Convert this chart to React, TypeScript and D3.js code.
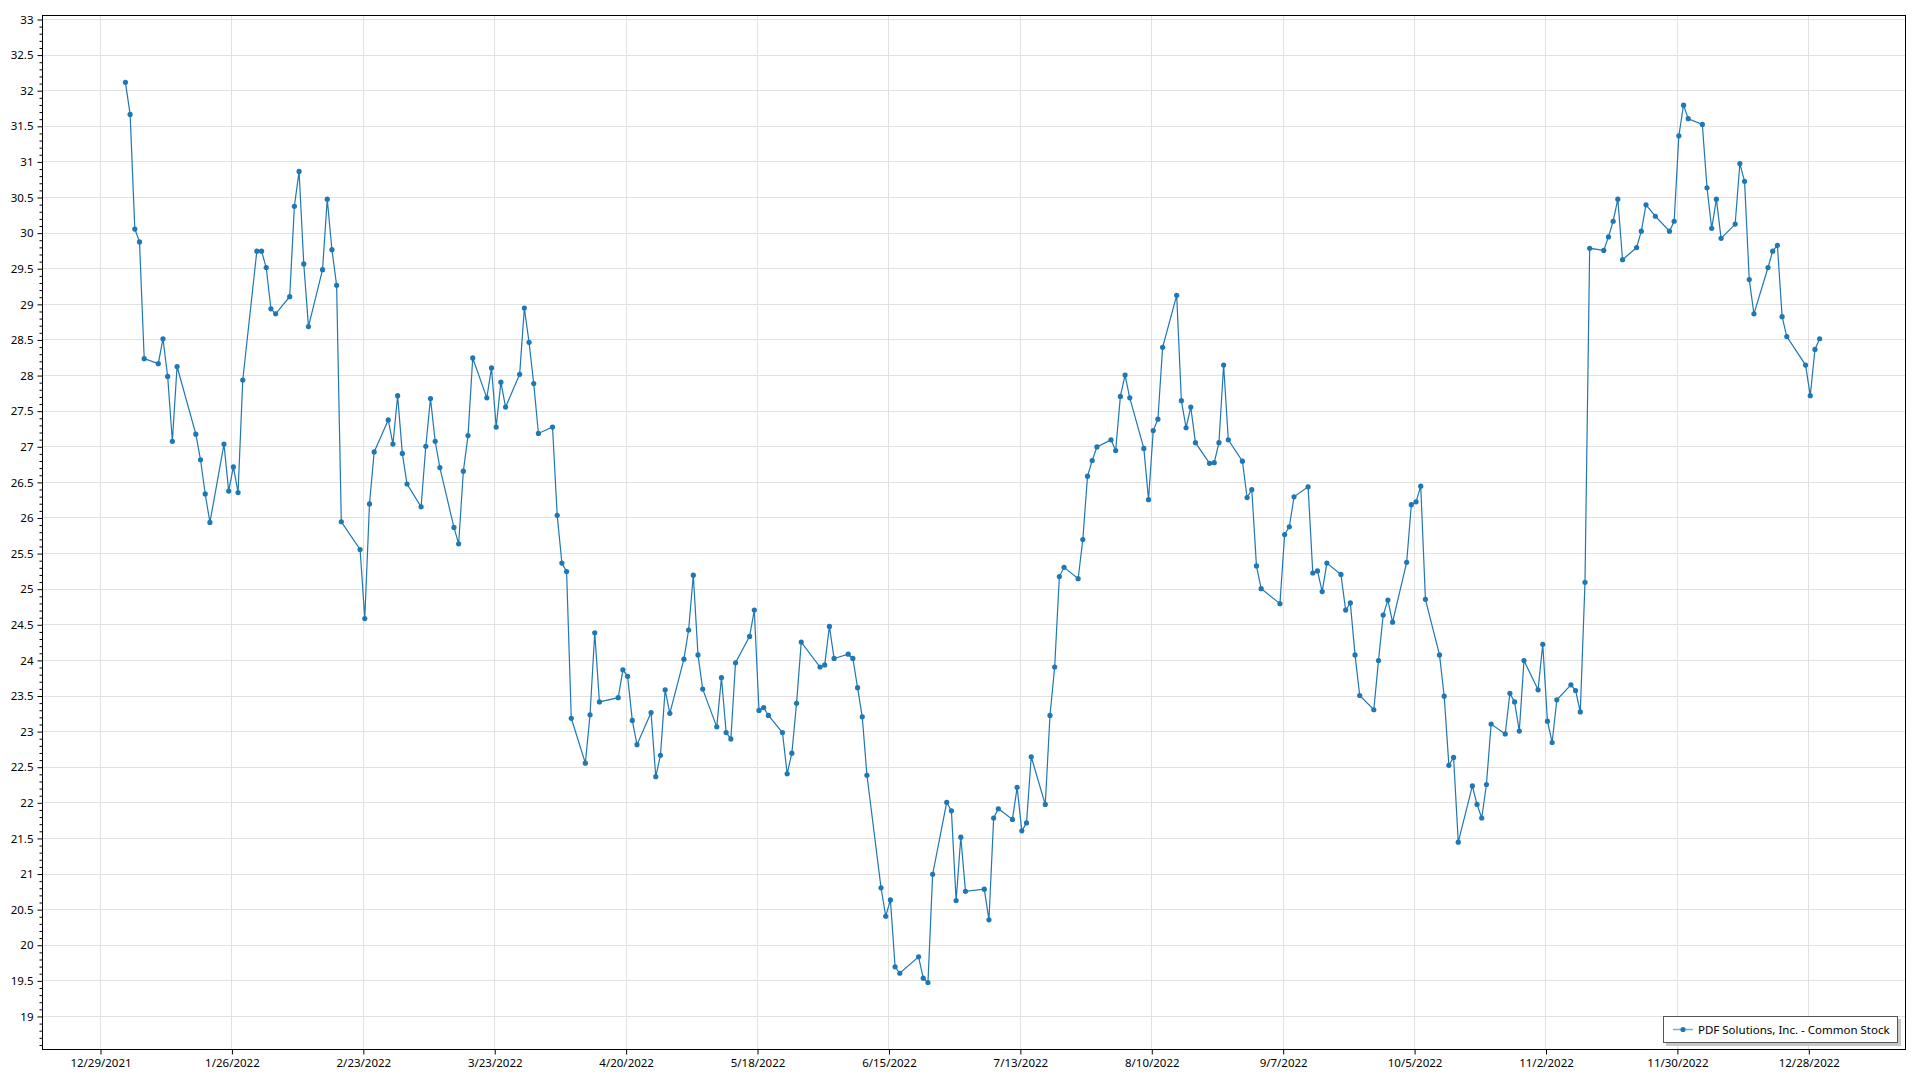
import React, { useRef, useEffect } from "react";
import * as d3 from "d3";

const seriesName = "PDF Solutions, Inc. - Common Stock";

// closing prices for 2022, [day of month, close]
const jan = [[3, 32.11], [4, 31.66], [5, 30.05], [6, 29.87], [7, 28.23], [10, 28.16], [11, 28.51], [12, 27.98], [13, 27.07], [14, 28.12], [18, 27.17], [19, 26.81], [20, 26.33], [21, 25.93], [24, 27.03], [25, 26.37], [26, 26.71], [27, 26.35], [28, 27.93], [31, 29.74]];
const feb = [[1, 29.74], [2, 29.51], [3, 28.93], [4, 28.86], [7, 29.1], [8, 30.37], [9, 30.86], [10, 29.56], [11, 28.68], [14, 29.48], [15, 30.47], [16, 29.76], [17, 29.26], [18, 25.94], [22, 25.55], [23, 24.58], [24, 26.19], [25, 26.92], [28, 27.37]];
const mar = [[1, 27.03], [2, 27.71], [3, 26.9], [4, 26.47], [7, 26.15], [8, 27.0], [9, 27.67], [10, 27.07], [11, 26.7], [14, 25.86], [15, 25.63], [16, 26.65], [17, 27.15], [18, 28.24], [21, 27.68], [22, 28.1], [23, 27.27], [24, 27.9], [25, 27.55], [28, 28.01], [29, 28.94], [30, 28.46], [31, 27.88]];
const apr = [[1, 27.18], [4, 27.27], [5, 26.03], [6, 25.36], [7, 25.24], [8, 23.18], [11, 22.55], [12, 23.23], [13, 24.38], [14, 23.41], [18, 23.47], [19, 23.86], [20, 23.77], [21, 23.15], [22, 22.81], [25, 23.26], [26, 22.36], [27, 22.66], [28, 23.58], [29, 23.25]];
const may = [[2, 24.01], [3, 24.42], [4, 25.19], [5, 24.07], [6, 23.59], [9, 23.06], [10, 23.75], [11, 22.98], [12, 22.89], [13, 23.96], [16, 24.33], [17, 24.7], [18, 23.29], [19, 23.33], [20, 23.22], [23, 22.98], [24, 22.4], [25, 22.69], [26, 23.39], [27, 24.25], [31, 23.9]];
const jun = [[1, 23.93], [2, 24.47], [3, 24.02], [6, 24.08], [7, 24.02], [8, 23.61], [9, 23.2], [10, 22.38], [13, 20.8], [14, 20.4], [15, 20.63], [16, 19.69], [17, 19.6], [21, 19.83], [22, 19.53], [23, 19.47], [24, 20.99], [27, 22.0], [28, 21.88], [29, 20.62], [30, 21.51]];
const jul = [[1, 20.75], [5, 20.78], [6, 20.35], [7, 21.78], [8, 21.91], [11, 21.76], [12, 22.21], [13, 21.6], [14, 21.71], [15, 22.64], [18, 21.97], [19, 23.22], [20, 23.9], [21, 25.17], [22, 25.3], [25, 25.14], [26, 25.69], [27, 26.58], [28, 26.8], [29, 26.99]];
const aug = [[1, 27.09], [2, 26.94], [3, 27.7], [4, 28.0], [5, 27.68], [8, 26.97], [9, 26.25], [10, 27.22], [11, 27.38], [12, 28.39], [15, 29.12], [16, 27.64], [17, 27.26], [18, 27.55], [19, 27.05], [22, 26.76], [23, 26.77], [24, 27.05], [25, 28.14], [26, 27.09], [29, 26.79], [30, 26.28], [31, 26.39]];
const sep = [[1, 25.32], [2, 25.0], [6, 24.79], [7, 25.76], [8, 25.87], [9, 26.29], [12, 26.43], [13, 25.22], [14, 25.25], [15, 24.96], [16, 25.36], [19, 25.2], [20, 24.7], [21, 24.8], [22, 24.07], [23, 23.5], [26, 23.3], [27, 23.99], [28, 24.63], [29, 24.84], [30, 24.53]];
const oct = [[3, 25.37], [4, 26.18], [5, 26.22], [6, 26.44], [7, 24.85], [10, 24.07], [11, 23.49], [12, 22.52], [13, 22.63], [14, 21.44], [17, 22.23], [18, 21.97], [19, 21.78], [20, 22.25], [21, 23.1], [24, 22.96], [25, 23.53], [26, 23.41], [27, 23.0], [28, 23.99], [31, 23.58]];
const nov = [[1, 24.22], [2, 23.14], [3, 22.84], [4, 23.44], [7, 23.65], [8, 23.57], [9, 23.27], [10, 25.09], [11, 29.78], [14, 29.75], [15, 29.94], [16, 30.16], [17, 30.47], [18, 29.62], [21, 29.79], [22, 30.02], [23, 30.39], [25, 30.23], [28, 30.02], [29, 30.16], [30, 31.36]];
const dec = [[1, 31.79], [2, 31.6], [5, 31.52], [6, 30.63], [7, 30.06], [8, 30.47], [9, 29.92], [12, 30.12], [13, 30.97], [14, 30.72], [15, 29.34], [16, 28.86], [19, 29.51], [20, 29.74], [21, 29.82], [22, 28.82], [23, 28.54], [27, 28.14], [28, 27.71], [29, 28.36], [30, 28.51]];
const months = [jan, feb, mar, apr, may, jun, jul, aug, sep, oct, nov, dec];

const xTickLabels = ["12/29/2021", "1/26/2022", "2/23/2022", "3/23/2022", "4/20/2022", "5/18/2022", "6/15/2022", "7/13/2022", "8/10/2022", "9/7/2022", "10/5/2022", "11/2/2022", "11/30/2022", "12/28/2022"];
const yTicks = d3.range(19, 33.01, 0.5);

const font = "'Noto Sans', 'Open Sans', sans-serif";
const blue = "#1f77b4";

const StockChart: React.FC = () => {
  const ref = useRef<SVGSVGElement | null>(null);

  useEffect(() => {
    const svg = d3.select(ref.current);
    svg.selectAll("*").remove();

    const width = 1920;
    const height = 1080;
    const left = 42, right = 1905, top = 15, bottom = 1049;

    const data = months.flatMap((m, i) =>
      m.map(([d, v]) => ({ date: new Date(2022, i, d, 10), value: v }))
    );
    const parse = d3.timeParse("%m/%d/%Y");
    const tickDates = xTickLabels.map((s) => parse(s) as Date);

    const x = d3
      .scaleTime()
      .domain([new Date(2021, 11, 16, 15, 20), new Date(2023, 0, 17, 14, 30)])
      .range([left, right]);
    const y = d3.scaleLinear().domain([18.536, 33.056]).range([bottom, top]);

    svg.attr("width", width).attr("height", height);
    svg.append("rect").attr("width", width).attr("height", height).attr("fill", "#fff");

    // grid
    const grid = svg.append("g").attr("stroke", "#e2e2e2").attr("stroke-width", 1);
    grid
      .selectAll("line.h")
      .data(yTicks)
      .enter()
      .append("line")
      .attr("x1", left)
      .attr("x2", right)
      .attr("y1", (d) => Math.round(y(d)) + 0.5)
      .attr("y2", (d) => Math.round(y(d)) + 0.5);
    grid
      .selectAll("line.v")
      .data(tickDates)
      .enter()
      .append("line")
      .attr("y1", top)
      .attr("y2", bottom)
      .attr("x1", (d) => Math.round(x(d)) + 0.5)
      .attr("x2", (d) => Math.round(x(d)) + 0.5);

    // y axis
    const minor = d3.range(186, 331).map((v) => v / 10).filter((v) => Math.round(v * 10) % 5 !== 0);
    const yMinor = svg
      .append("g")
      .attr("transform", `translate(${left + 0.5},0.5)`)
      .call(d3.axisLeft(y).tickValues(minor).tickSize(3).tickFormat(() => ""));
    const yMajor = svg
      .append("g")
      .attr("transform", `translate(${left + 0.5},0.5)`)
      .call(
        d3
          .axisLeft(y)
          .tickValues(yTicks)
          .tickSize(5)
          .tickPadding(4)
          .tickFormat((d) => String(+(+d).toFixed(1)))
      );

    // x axis
    const xAxis = svg
      .append("g")
      .attr("transform", `translate(0.5,${bottom + 0.5})`)
      .call(
        d3
          .axisBottom(x)
          .tickValues(tickDates)
          .tickSize(5)
          .tickPadding(4)
          .tickFormat((d: any) => `${d.getMonth() + 1}/${d.getDate()}/${d.getFullYear()}`)
      );

    [yMinor, yMajor, xAxis].forEach((g) => {
      g.select(".domain").remove();
      g.selectAll("line").attr("stroke", "#000");
      g.selectAll("text").attr("fill", "#000").attr("font-family", font).attr("font-size", 11.5);
    });

    // frame
    svg
      .append("rect")
      .attr("x", left + 0.5)
      .attr("y", top + 0.5)
      .attr("width", right - left)
      .attr("height", bottom - top)
      .attr("fill", "none")
      .attr("stroke", "#000");

    // series
    const line = d3
      .line<{ date: Date; value: number }>()
      .x((d) => x(d.date))
      .y((d) => y(d.value));
    svg
      .append("path")
      .datum(data)
      .attr("d", line)
      .attr("fill", "none")
      .attr("stroke", blue)
      .attr("stroke-width", 1.2);
    svg
      .append("g")
      .selectAll("circle")
      .data(data)
      .enter()
      .append("circle")
      .attr("cx", (d) => x(d.date))
      .attr("cy", (d) => y(d.value))
      .attr("r", 2.6)
      .attr("fill", blue);

    // legend
    const lg = svg.append("g").attr("transform", "translate(1663,1016)");
    lg.append("rect").attr("x", 3).attr("y", 3).attr("width", 235).attr("height", 27).attr("fill", "#c8c8c8");
    lg.append("rect")
      .attr("x", 0.5)
      .attr("y", 0.5)
      .attr("width", 234)
      .attr("height", 26)
      .attr("fill", "#fff")
      .attr("stroke", "#555");
    lg.append("line")
      .attr("x1", 10)
      .attr("x2", 30)
      .attr("y1", 13.5)
      .attr("y2", 13.5)
      .attr("stroke", blue)
      .attr("stroke-opacity", 0.6)
      .attr("stroke-width", 1.5);
    lg.append("circle").attr("cx", 20).attr("cy", 13.5).attr("r", 2.6).attr("fill", blue);
    lg.append("text")
      .attr("x", 35)
      .attr("y", 17.5)
      .attr("font-family", font)
      .attr("font-size", 11.5)
      .attr("fill", "#000")
      .text(seriesName);
  }, []);

  return <svg ref={ref} style={{ position: "absolute", left: 0, top: 0 }}></svg>;
};

export default function App() {
  return <StockChart />;
}
